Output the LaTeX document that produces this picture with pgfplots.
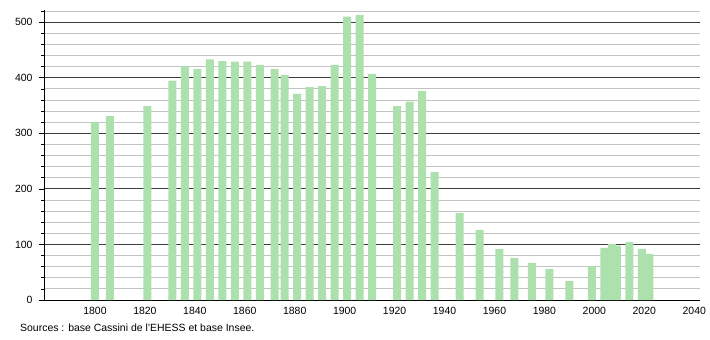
\documentclass[border=0pt]{standalone}
\usepackage{pgfplots}
\pgfplotsset{compat=1.18}
\usepackage{fontspec}
\setmainfont{Liberation Sans}
\definecolor{barc}{RGB}{172,224,172}
\definecolor{majg}{RGB}{60,60,60}
\definecolor{ming}{RGB}{195,195,195}
\begin{document}
\begin{tikzpicture}
\begin{axis}[
  name=ax,
  scale only axis,
  width=656bp, height=290bp,
  xmin=1779.6, xmax=2042.3,
  ymin=0, ymax=522,
  axis lines*=left,
  axis line style={black, line width=0.8bp},
  ytick={0,100,...,500},
  minor ytick={20,40,60,80,120,140,160,180,220,240,260,280,320,340,360,380,420,440,460,480,520},
  xtick={1800,1820,...,2040},
  x tick label style={/pgf/number format/1000 sep={}},
  /pgf/number format/assume math mode=true,
  tick label style={font=\fontsize{10.5}{12}\selectfont},
  yticklabel style={xshift=-3bp},
  xticklabel style={yshift=1bp},
  ymajorgrids, yminorgrids,
  major grid style={majg, line width=0.8bp},
  minor grid style={ming, line width=0.8bp},
  tick align=outside,
  y tick style={black, line width=0.6bp},
  major tick length=5bp,
  minor tick length=2.5bp,
  x tick style={draw=none},
  ybar, bar width=3.2,
  clip=false,
]
\addplot[fill=barc, draw=none] coordinates {
(1800,320) (1806,331) (1821,349) (1831,395) (1836,421) (1841,416)
(1846,433) (1851,430) (1856,429) (1861,429) (1866,423) (1872,416)
(1876,405) (1881,371) (1886,383) (1891,385) (1896,423) (1901,510)
(1906,513) (1911,407) (1921,349) (1926,357) (1931,376) (1936,230)
(1946,157) (1954,126) (1962,92) (1968,76) (1975,67) (1982,56)
(1990,34) (1999,61) (2004,94) (2007,101) (2009,98) (2014,104)
(2019,92) (2022,83)
};
\end{axis}
\node[anchor=west, inner sep=0pt, font=\fontsize{10.5}{12}\selectfont] at ([xshift=-24bp,yshift=-28bp]ax.south west) {Sources : base Cassini de l'EHESS et base Insee.};
\path ([xshift=-44bp,yshift=-40bp]ax.south west) rectangle ++(710bp,340bp);
\end{tikzpicture}
\end{document}
